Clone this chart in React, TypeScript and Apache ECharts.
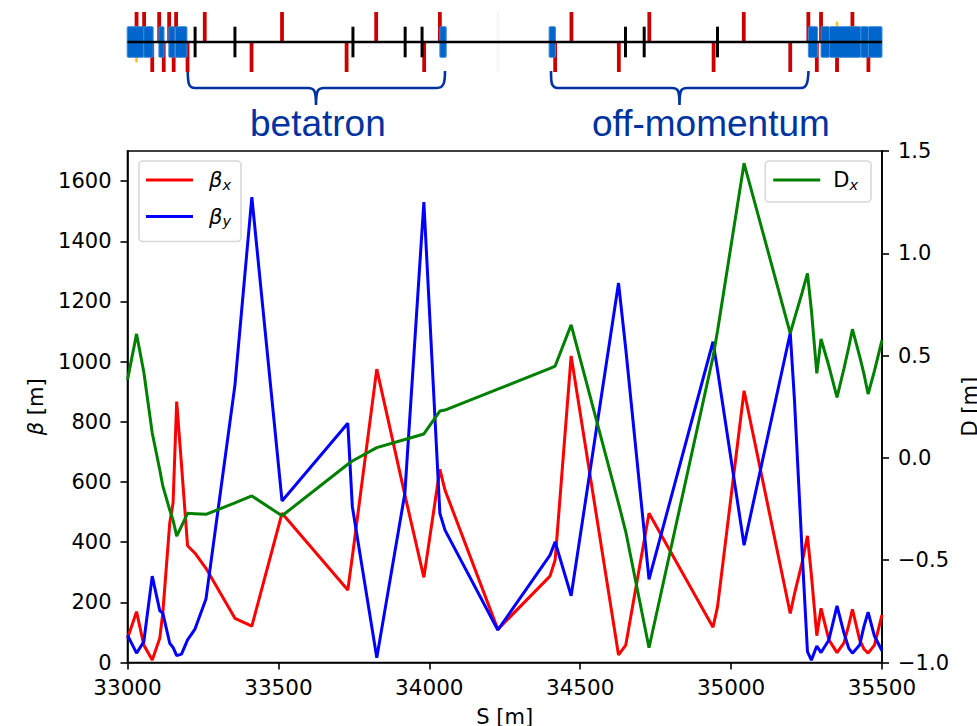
import React, { useEffect, useRef } from "react";
import * as echarts from "echarts";

const sValues = [33000,33030,33054,33082,33107,33117,33140,33151,33163,33179,33199,33223,33260,33356,33412,33512,33730,33745,33826,33919,33982,34035,34052,34227,34400,34417,34470,34627,34651,34728,34940,34955,35043,35196,35210,35235,35253,35266,35284,35298,35324,35351,35374,35390,35402,35426,35440,35454,35475,35500];
const betaX = [80,169,58,8,81,165,464,530,867,656,388,364,313,147,121,496,241,352,975,557,283,642,573,110,287,341,1019,25,58,496,117,185,903,163,228,331,421,291,89,180,75,33,65,125,177,75,45,31,58,158];
const betaY = [91,31,69,287,172,164,64,50,23,28,75,110,211,922,1547,537,795,518,16,562,1530,496,440,108,357,401,222,1261,1042,276,1066,972,390,1095,872,374,36,8,55,33,75,188,98,47,31,58,119,167,88,39];
const dispX = [0.381,0.606,0.42,0.122,-0.059,-0.137,-0.255,-0.304,-0.382,-0.333,-0.271,-0.273,-0.276,-0.22,-0.186,-0.283,-0.031,-0.015,0.05,0.09,0.117,0.229,0.234,0.336,0.438,0.449,0.65,-0.222,-0.361,-0.928,0.493,0.62,1.44,0.609,0.681,0.806,0.902,0.723,0.413,0.581,0.449,0.296,0.437,0.542,0.629,0.496,0.412,0.312,0.425,0.576];

const latticeUpperRed = [33030,33055,33105,33138,33161,33256,33512,33824,34035,34471,34729,35042,35256,35298,35402];
const latticeLowerRed = [33082,33120,33153,33199,33411,33726,33983,34417,34628,34942,35196,35284,35351,35455];
const latticeBlack = [33224,33356,33747,33920,33976,34650,34712,34955];
const latticeBlue = [[32999,33054],[33054,33085],[33104,33121],[33137,33157],[33159,33197],[34035,34056],[34397,34418],[35256,35286],[35298,35326],[35326,35430],[35430,35455],[35455,35500]];
const latticeYellow = [33030,35351];
const latticeFaint = [34228];
const beamLine = [33000,35500];

const betaTicks = [0,200,400,600,800,1000,1200,1400,1600];

const FONT = "DejaVu Sans";
const BLUE_TEXT = "#0033a0";

echarts.graphic.registerShape("brace1", echarts.graphic.extendPath(
  "M187.7 71 C188 82 188 88 195 88 L308 88 C314 88 316 90 316 105 C316 90 318 88 324 88 L437 88 C444 88 445 82 445 71", {}));
echarts.graphic.registerShape("brace2", echarts.graphic.extendPath(
  "M551 71 C551 82 551 88 558 88 L672 88 C678 88 679.5 90 679.5 105 C679.5 90 681 88 687 88 L801 88 C807 88 808 82 808.5 71", {}));

const barSeries = (name: string, items: number[][], color: string, opts: any = {}) => ({
  type: "custom", name, xAxisIndex: 1, yAxisIndex: 2, silent: true, clip: false,
  data: items,
  encode: { x: [0, 1], y: [2, 3] },
  renderItem: (_p: any, api: any) => {
    const a = api.coord([api.value(0), api.value(3)]);
    const b = api.coord([api.value(1), api.value(2)]);
    const w = Math.max(opts.width ?? 0, b[0] - a[0]);
    const x = opts.width ? a[0] - opts.width / 2 : a[0];
    return {
      type: "rect",
      shape: { x, y: a[1], width: w, height: b[1] - a[1], r: opts.r ?? 0 },
      style: { fill: color, stroke: opts.stroke, lineWidth: opts.stroke ? 1 : 0 },
    };
  },
});

const subRich = {
  i: { fontFamily: FONT, fontStyle: "italic", fontSize: 21, color: "#000", lineHeight: 27 },
  n: { fontFamily: FONT, fontSize: 21, color: "#000", lineHeight: 27 },
  s: { fontFamily: FONT, fontStyle: "italic", fontSize: 14.5, color: "#000", padding: [9, 0, 0, 0], lineHeight: 27 },
};

export default function App() {
  const ref = useRef<HTMLDivElement>(null);
  useEffect(() => {
    document.body.style.margin = "0";
    const chart = echarts.init(ref.current!, undefined, { renderer: "svg" });
    const axisLine = { show: true, lineStyle: { color: "#000", width: 1.6 } };
    const axisTick = { show: true, length: 7, lineStyle: { color: "#000", width: 1.6 } };
    const labelBase = { fontFamily: FONT, fontSize: 21, color: "#000" };
    chart.setOption({
      animation: false,
      backgroundColor: "#fff",
      grid: [
        { left: 127.5, right: 95, top: 151, bottom: 63.5, show: true, borderColor: "#000", borderWidth: 1.6, backgroundColor: "transparent", outerBoundsMode: "none" },
        { left: 127.5, right: 95, top: 12, height: 60, show: false, outerBoundsMode: "none" },
      ],
      xAxis: [
        {
          type: "value", gridIndex: 0, min: 33000, max: 35500, interval: 500,
          axisLine, axisTick, splitLine: { show: false },
          axisLabel: { ...labelBase, fontSize: 21.5, margin: 14, formatter: (v: number) => String(v), showMinLabel: true, showMaxLabel: true },
          name: "S [m]", nameLocation: "middle", nameGap: 44,
          nameTextStyle: { ...labelBase },
        },
        { type: "value", gridIndex: 1, min: 33000, max: 35500, show: false },
      ],
      yAxis: [
        {
          type: "value", gridIndex: 0, min: 0, max: 1700, interval: 200,
          axisLine, splitLine: { show: false },
          axisTick: { ...axisTick, customValues: betaTicks },
          axisLabel: { ...labelBase, margin: 16, customValues: betaTicks, formatter: (v: number) => String(v) },
          name: "{i|β} {n|[m]}", nameLocation: "middle", nameGap: 78, nameRotate: 90,
          nameTextStyle: { ...labelBase, rich: subRich },
        },
        {
          type: "value", gridIndex: 0, position: "right", min: -1, max: 1.5, interval: 0.5,
          axisLine, axisTick, splitLine: { show: false },
          axisLabel: { ...labelBase, margin: 16, formatter: (v: number) => (v < 0 ? "\u2212" : "") + Math.abs(v).toFixed(1) },
          name: "D [m]", nameLocation: "middle", nameGap: 75, nameRotate: 90,
          nameTextStyle: { ...labelBase },
        },
        { type: "value", gridIndex: 1, min: -1, max: 1, show: false },
      ],
      legend: [
        {
          data: ["betaX", "betaY"], left: 139, top: 161, orient: "vertical",
          padding: [7, 10, 13, 7], itemGap: 12.5, itemWidth: 47, itemHeight: 3,
          icon: "rect", borderColor: "#d8d8d8", borderWidth: 1.6, borderRadius: 4,
          backgroundColor: "#fff",
          formatter: (n: string) => (n === "betaX" ? "{i|β}{s|x}" : "{i|β}{s|y}"),
          textStyle: { ...labelBase, padding: [0, 0, 0, 11], rich: subRich },
        },
        {
          data: ["Dx"], right: 106, top: 161, orient: "vertical",
          padding: [7, 13, 10, 8], itemWidth: 47, itemHeight: 3,
          icon: "rect", borderColor: "#d8d8d8", borderWidth: 1.6, borderRadius: 4,
          backgroundColor: "#fff",
          formatter: () => "{n|D}{s|x}",
          textStyle: { ...labelBase, padding: [0, 0, 0, 8], rich: subRich },
        },
      ],
      series: [
        { type: "line", name: "betaX", xAxisIndex: 0, yAxisIndex: 0, showSymbol: false, symbol: "none",
          data: sValues.map((s, i) => [s, betaX[i]]), lineStyle: { color: "#ff0000", width: 3 }, itemStyle: { color: "#ff0000" } },
        { type: "line", name: "betaY", xAxisIndex: 0, yAxisIndex: 0, showSymbol: false, symbol: "none",
          data: sValues.map((s, i) => [s, betaY[i]]), lineStyle: { color: "#0000ff", width: 3 }, itemStyle: { color: "#0000ff" } },
        { type: "line", name: "Dx", xAxisIndex: 0, yAxisIndex: 1, showSymbol: false, symbol: "none",
          data: sValues.map((s, i) => [s, dispX[i]]), lineStyle: { color: "#008000", width: 3 }, itemStyle: { color: "#008000" } },
        barSeries("faint", latticeFaint.map((s) => [s, s, -1, 1]), "#f6f6f6", { width: 3 }),
        barSeries("yellow", latticeYellow.map((s) => [s, s, -0.68, 0.68]), "#f5c518", { width: 2.5 }),
        barSeries("redUp", latticeUpperRed.map((s) => [s, s, 0, 1]), "#cc0000", { width: 3.8 }),
        barSeries("redDown", latticeLowerRed.map((s) => [s, s, -1, 0]), "#cc0000", { width: 3.8 }),
        barSeries("blue", latticeBlue.map(([a, b]) => [a, b, -0.51, 0.51]), "#0066cc", { stroke: "#3d88d6", r: 1 }),
        barSeries("black", latticeBlack.map((s) => [s, s, -0.51, 0.51]), "#000", { width: 3 }),
        { type: "line", name: "beam", xAxisIndex: 1, yAxisIndex: 2, showSymbol: false, symbol: "none", silent: true,
          data: beamLine.map((s) => [s, 0]), lineStyle: { color: "#000", width: 2.4 } },
      ],
      graphic: [
        { type: "brace1", x: 0, y: 0, style: { fill: "none", stroke: BLUE_TEXT, lineWidth: 2.6 } },
        { type: "brace2", x: 0, y: 0, style: { fill: "none", stroke: BLUE_TEXT, lineWidth: 2.6 } },
        { type: "text", x: 250, y: 105, style: { text: "betatron", fill: BLUE_TEXT, font: "37px 'Liberation Sans'" } },
        { type: "text", x: 592, y: 105, style: { text: "off-momentum", fill: BLUE_TEXT, font: "37px 'Liberation Sans'" } },
      ],
    });
    return () => chart.dispose();
  }, []);
  return <div ref={ref} style={{ width: 977, height: 726 }} />;
}
